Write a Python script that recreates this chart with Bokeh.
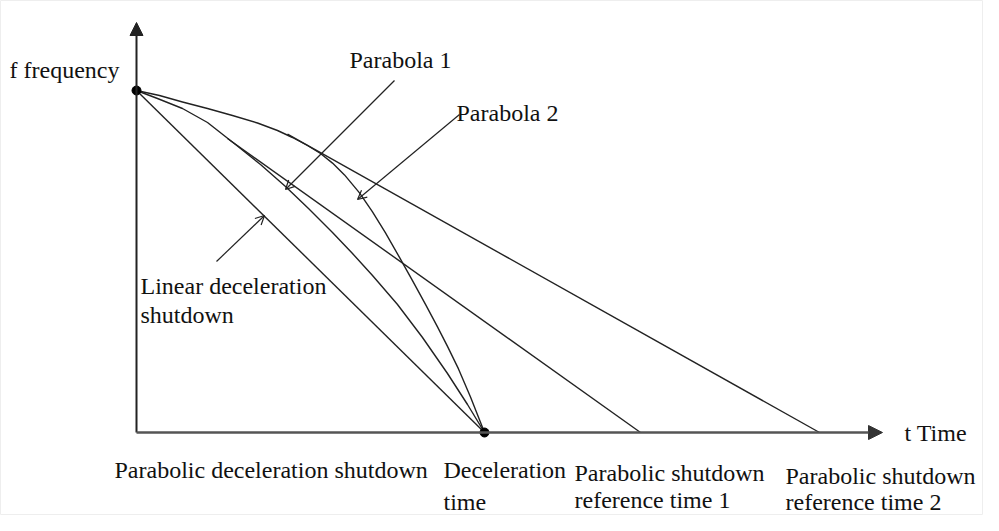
from bokeh.plotting import figure
from bokeh.models import Range1d, Arrow, NormalHead, OpenHead
from bokeh.core.properties import value
from bokeh.embed import file_html
from bokeh.resources import INLINE

# ---- data (t = time, f = frequency; diagram units) ----
start_t = [0]
start_f = [342]
decel_t = [348]
decel_f = [0]

linear_t = [0, 348]
linear_f = [342, 0]

parabola1_t = [0, 21, 46, 71, 99, 124, 149, 172, 196, 216, 236, 261, 286, 311, 331, 348]
parabola1_f = [342, 334, 324, 310, 288, 268, 246, 224, 200, 179, 157, 128, 95, 59, 28, 0]

parabola2_t = [0, 23, 46, 71, 96, 121, 141, 156, 171, 184, 196, 208, 223, 236, 249,
               263, 276, 289, 301, 311, 322, 334, 348]
parabola2_f = [342, 337, 330.5, 324, 317, 309.5, 302, 295, 287, 279, 269.4, 257.6, 239.6,
               220.7, 199.6, 175.1, 151.9, 128.2, 105.6, 86.1, 63.6, 35.4, 0]

ref1_t = [91, 504]
ref1_f = [294, 0]

ref2_t = [151, 683]
ref2_f = [298.4, 0]

label_text = ["f frequency", "Parabola 1", "Parabola 2", "Linear deceleration", "shutdown",
              "Parabolic deceleration shutdown", "Deceleration", "time",
              "Parabolic shutdown", "reference time 1", "Parabolic shutdown", "reference time 2",
              "t Time"]
label_t = [-127, 213, 320, 4, 4, -22, 307, 307, 438, 438, 649, 649, 768]
label_f = [363, 373, 320, 147, 118, -37, -37, -69, -40, -67, -43, -69, 0]

# pointer arrows: (t_start, f_start, t_tip, f_tip)
pointers = [(258, 352, 149, 243), (323, 318, 221, 233), (80, 171, 128, 217)]

# ---- figure ----
p = figure(width=983, height=515, x_range=Range1d(-136, 847), y_range=Range1d(-83, 432),
           output_backend="svg", toolbar_location=None, min_border=0)
p.axis.visible = False
p.grid.visible = False
p.outline_line_color = "#eeeeee"
p.background_fill_color = "white"

LC = "#222222"
# axes
p.add_layout(Arrow(end=NormalHead(size=13, fill_color="#222222", line_color="#222222"),
                   x_start=0, y_start=0, x_end=0, y_end=410, line_width=2, line_color="#222222"))
p.add_layout(Arrow(end=NormalHead(size=14, fill_color="#333333", line_color="#333333"),
                   x_start=0, y_start=0, x_end=746, y_end=0, line_width=2.5, line_color="#555555"))

p.line(linear_t, linear_f, line_color=LC, line_width=1.4)
p.line(parabola1_t, parabola1_f, line_color=LC, line_width=1.4, line_join="round")
p.line(parabola2_t, parabola2_f, line_color=LC, line_width=1.4, line_join="round")
p.line(ref1_t, ref1_f, line_color=LC, line_width=1.4)
p.line(ref2_t, ref2_f, line_color=LC, line_width=1.4)

p.scatter(start_t, start_f, size=9, color="black")
p.scatter(decel_t, decel_f, size=9, color="black")

for ts, fs, te, fe in pointers:
    p.add_layout(Arrow(end=OpenHead(size=9, line_width=1.2, line_color=LC),
                       x_start=ts, y_start=fs, x_end=te, y_end=fe,
                       line_width=1.2, line_color=LC))

p.text(label_t, label_f, text=label_text, text_font=value("Liberation Serif"),
       text_font_size="24px", text_color="#111111", text_baseline="alphabetic",
       text_align="left")

open("out.html", "w").write(file_html(p, INLINE))
